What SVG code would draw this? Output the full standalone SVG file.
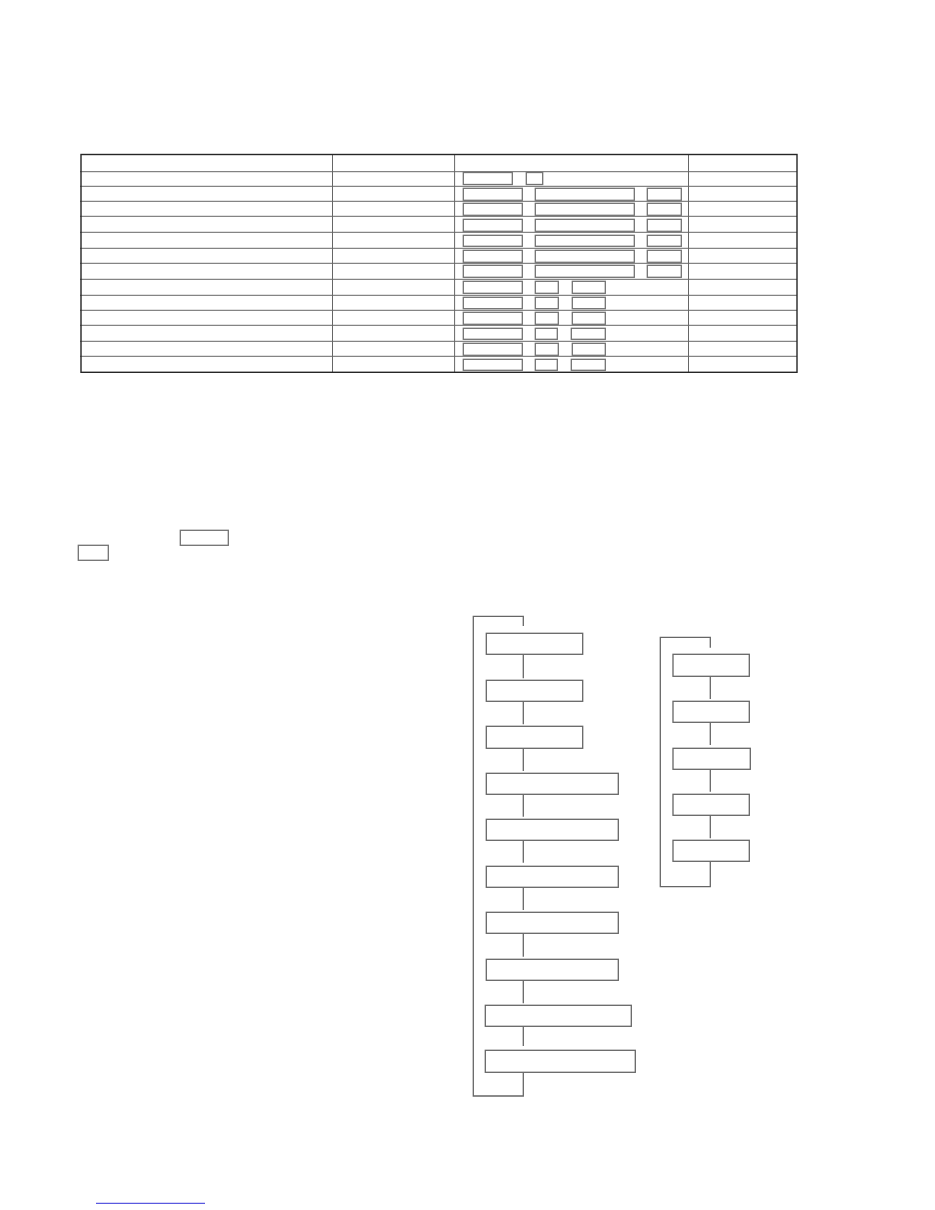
<svg xmlns="http://www.w3.org/2000/svg" width="935" height="1210" viewBox="0 0 935 1210">
<style>
.bg{fill:#ffffff}
.outer{fill:none;stroke:#262626;stroke-width:1.4}
.grid{fill:none;stroke:#666666;stroke-width:1}
.cell{fill:#ffffff;stroke:#727272;stroke-width:1.3}
.node{fill:#ffffff;stroke:#666666;stroke-width:1.3}
.conn{fill:none;stroke:#666666;stroke-width:1.3}
.ul{stroke:#5a5ae0;stroke-width:1.3}
</style>
<rect class="bg" x="0" y="0" width="935" height="1210"/>

<g id="table">
  <g id="table-grid">
    <path class="grid" d="M80,171.7H797 M80,186.3H797 M80,201.3H797 M80,216.3H797 M80,232.3H797 M80,248.3H797 M80,263.3H797 M80,279.3H797 M80,295.3H797 M80,310.3H797 M80,325.3H797 M80,341.3H797 M80,356.3H797"/>
    <path class="grid" d="M332.5,154.5V372.3 M454.6,154.5V372.3 M688.5,154.5V372.3"/>
    <rect class="outer" x="81" y="154.5" width="716" height="217.8"/>
  </g>
  <g id="row1"><rect class="cell" x="463.3" y="172.5" width="49" height="12"/><rect class="cell" x="526.3" y="172.5" width="16.4" height="12"/></g>
  <g id="row2"><rect class="cell" x="463.3" y="188.3" width="59" height="12"/><rect class="cell" x="535.3" y="188.3" width="99" height="12"/><rect class="cell" x="647.3" y="188.3" width="34" height="12"/></g>
  <g id="row3"><rect class="cell" x="463.3" y="203.3" width="59" height="12"/><rect class="cell" x="535.3" y="203.3" width="99" height="12"/><rect class="cell" x="647.3" y="203.3" width="34" height="12"/></g>
  <g id="row4"><rect class="cell" x="463.3" y="219.3" width="59" height="12"/><rect class="cell" x="535.3" y="219.3" width="99" height="12"/><rect class="cell" x="647.3" y="219.3" width="34" height="12"/></g>
  <g id="row5"><rect class="cell" x="463.3" y="235.3" width="59" height="11"/><rect class="cell" x="535.3" y="235.3" width="99" height="11"/><rect class="cell" x="647.3" y="235.3" width="34" height="11"/></g>
  <g id="row6"><rect class="cell" x="463.3" y="250.3" width="59" height="12"/><rect class="cell" x="535.3" y="250.3" width="99" height="12"/><rect class="cell" x="647.3" y="250.3" width="34" height="12"/></g>
  <g id="row7"><rect class="cell" x="463.3" y="265.3" width="59" height="12"/><rect class="cell" x="535.3" y="265.3" width="99" height="12"/><rect class="cell" x="647.3" y="265.3" width="34" height="12"/></g>
  <g id="row8"><rect class="cell" x="463.3" y="281.3" width="59" height="12"/><rect class="cell" x="535.3" y="281.3" width="23" height="12"/><rect class="cell" x="572.3" y="281.3" width="33" height="12"/></g>
  <g id="row9"><rect class="cell" x="463.3" y="297.3" width="59" height="11.4"/><rect class="cell" x="535.3" y="297.3" width="23" height="11.4"/><rect class="cell" x="572.3" y="297.3" width="33" height="11.4"/></g>
  <g id="row10"><rect class="cell" x="463.3" y="312.3" width="59" height="12"/><rect class="cell" x="535.3" y="312.3" width="23" height="12"/><rect class="cell" x="572.3" y="312.3" width="33" height="12"/></g>
  <g id="row11"><rect class="cell" x="463.3" y="328.3" width="59" height="11"/><rect class="cell" x="535.3" y="328.3" width="22" height="11"/><rect class="cell" x="571.3" y="328.3" width="34" height="11"/></g>
  <g id="row12"><rect class="cell" x="463.3" y="343.3" width="59" height="12"/><rect class="cell" x="535.3" y="343.3" width="23" height="12"/><rect class="cell" x="572.3" y="343.3" width="33" height="12"/></g>
  <g id="row13"><rect class="cell" x="463.3" y="359.3" width="59" height="11"/><rect class="cell" x="535.3" y="359.3" width="22" height="11"/><rect class="cell" x="571.3" y="359.3" width="34" height="11"/></g>
</g>

<g id="inline-box-1"><rect class="cell" x="180.3" y="530.3" width="48" height="15"/></g>
<g id="inline-box-2"><rect class="cell" x="78.3" y="545.3" width="30" height="15"/></g>

<g id="connectors">
  <path class="conn" d="M523.3,626V616.3H473.3V1096H523.3V1072.3"/>
  <path class="conn" d="M523.3,654.3V678.3 M523.3,701.3V724.3 M523.3,748.3V771 M523.3,794.3V816.7 M523.3,840.3V862.7 M523.3,887.3V910 M523.3,933.3V956.7 M523.3,980.3V1003.3 M523.3,1026.3V1046"/>
  <path class="conn" d="M710.3,647.7V637.3H660.3V886.7H710.3V861.3"/>
  <path class="conn" d="M710.3,676.3V699 M710.3,722.3V745 M710.3,769.3V791.7 M710.3,815.3V838.3"/>
</g>

<g id="n1"><rect class="node" x="486.3" y="633.3" width="96.4" height="21"/></g>
<g id="n2"><rect class="node" x="486.3" y="680.3" width="96.4" height="21"/></g>
<g id="n3"><rect class="node" x="486.3" y="726.3" width="96.4" height="22"/></g>
<g id="n4"><rect class="node" x="486.3" y="773.3" width="132" height="21"/></g>
<g id="n5"><rect class="node" x="486.3" y="819.3" width="132" height="21"/></g>
<g id="n6"><rect class="node" x="486.3" y="866.3" width="132" height="21"/></g>
<g id="n7"><rect class="node" x="486.3" y="912.3" width="132" height="21"/></g>
<g id="n8"><rect class="node" x="486.3" y="959.3" width="132" height="21"/></g>
<g id="n9"><rect class="node" x="485.3" y="1005.3" width="146" height="21"/></g>
<g id="n10"><rect class="node" x="485.3" y="1050.3" width="150" height="22"/></g>

<g id="m1"><rect class="node" x="673" y="654.3" width="76.3" height="22"/></g>
<g id="m2"><rect class="node" x="673" y="701.3" width="76.3" height="21"/></g>
<g id="m3"><rect class="node" x="673" y="748.3" width="77.3" height="21"/></g>
<g id="m4"><rect class="node" x="673" y="794.3" width="76.3" height="21"/></g>
<g id="m5"><rect class="node" x="673" y="840.3" width="76.3" height="21"/></g>

<g id="footnote-rule"><line class="ul" x1="96" y1="1203.3" x2="205" y2="1203.3"/></g>
</svg>
